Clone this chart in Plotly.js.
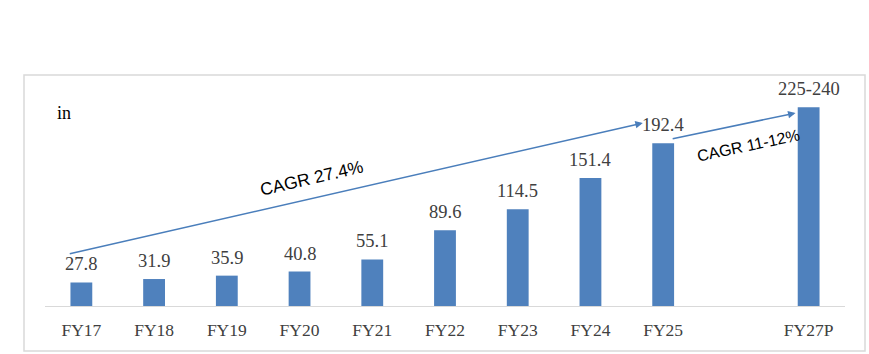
<!DOCTYPE html>
<html>
<head>
<meta charset="utf-8">
<script src="https://cdn.plot.ly/plotly-3.0.1.min.js"></script>
<style>html,body{margin:0;padding:0;background:#fff;}#chart{width:869px;height:354px;}</style>
</head>
<body>
<div id="chart"></div>
<script>
// Data
const categories = ['FY17','FY18','FY19','FY20','FY21','FY22','FY23','FY24','FY25','FY27P'];
const axisOrder = ['FY17','FY18','FY19','FY20','FY21','FY22','FY23','FY24','FY25',' ','FY27P'];
const values = [27.8, 31.9, 35.9, 40.8, 55.1, 89.6, 114.5, 151.4, 192.4, 235];
const valueLabels = ['27.8','31.9','35.9','40.8','55.1','89.6','114.5','151.4','192.4','225-240'];
const unitLabel = 'in';
const cagrLabels = ['CAGR 27.4%', 'CAGR 11-12%'];

const serif = '"Liberation Serif", "DejaVu Serif", serif';
const sans = '"Liberation Sans", Arial, sans-serif';
const barColor = '#4f81bd';
const arrowColor = '#4a7ebb';

const trace = {
  type: 'bar',
  x: categories,
  y: values,
  marker: {color: barColor},
  width: 0.3,
  hoverinfo: 'skip'
};

const annotations = [];
categories.forEach((c, i) => {
  annotations.push({
    x: c, y: values[i], xref: 'x', yref: 'y',
    text: valueLabels[i], showarrow: false,
    yanchor: 'bottom', yshift: 6,
    font: {family: serif, size: 18.5, color: '#404040'}
  });
});
// unit label
annotations.push({
  x: 0.012, y: 0.84, xref: 'paper', yref: 'paper',
  xanchor: 'left', yanchor: 'middle',
  text: unitLabel, showarrow: false,
  font: {family: serif, size: 18, color: '#000000'}
});
// CAGR arrows (data coordinates on index scale)
annotations.push({
  x: 7.72, y: 216.4, xref: 'x', yref: 'y',
  ax: -0.18, ay: 61.5, axref: 'x', ayref: 'y',
  text: '', showarrow: true, arrowhead: 2, arrowsize: 1, arrowwidth: 1.5,
  arrowcolor: arrowColor, standoff: 0
});
annotations.push({
  x: 9.82, y: 228.2, xref: 'x', yref: 'y',
  ax: 8.11, ay: 197.5, axref: 'x', ayref: 'y',
  text: '', showarrow: true, arrowhead: 2, arrowsize: 1, arrowwidth: 1.5,
  arrowcolor: arrowColor, standoff: 0
});
annotations.push({
  x: 3.17, y: 151.4, xref: 'x', yref: 'y',
  text: cagrLabels[0], showarrow: false, textangle: -13,
  font: {family: sans, size: 17.5, color: '#000000'}
});
annotations.push({
  x: 9.17, y: 190.4, xref: 'x', yref: 'y',
  text: cagrLabels[1], showarrow: false, textangle: -12,
  font: {family: sans, size: 16, color: '#000000'}
});

const layout = {
  width: 869, height: 354,
  margin: {l: 45, r: 24, t: 76, b: 48},
  paper_bgcolor: '#ffffff', plot_bgcolor: '#ffffff',
  showlegend: false,
  xaxis: {
    type: 'category',
    categoryorder: 'array',
    categoryarray: axisOrder,
    range: [-0.5, 10.5],
    showline: true, linecolor: '#d9d9d9', linewidth: 1,
    showgrid: false, zeroline: false, ticks: '',
    ticklabelstandoff: 8,
    tickfont: {family: serif, size: 17.5, color: '#404040'},
    fixedrange: true
  },
  yaxis: {
    range: [0, 272],
    visible: false, showgrid: false, zeroline: false,
    fixedrange: true
  },
  shapes: [{
    type: 'rect', xref: 'paper', yref: 'paper',
    x0: -0.02625, x1: 1.025, y0: -0.1957, y1: 1.004,
    line: {color: '#d9d9d9', width: 1.5}, fillcolor: 'rgba(0,0,0,0)'
  }],
  annotations: annotations
};

Plotly.newPlot('chart', [trace], layout, {displayModeBar: false, staticPlot: true});
</script>
</body>
</html>
